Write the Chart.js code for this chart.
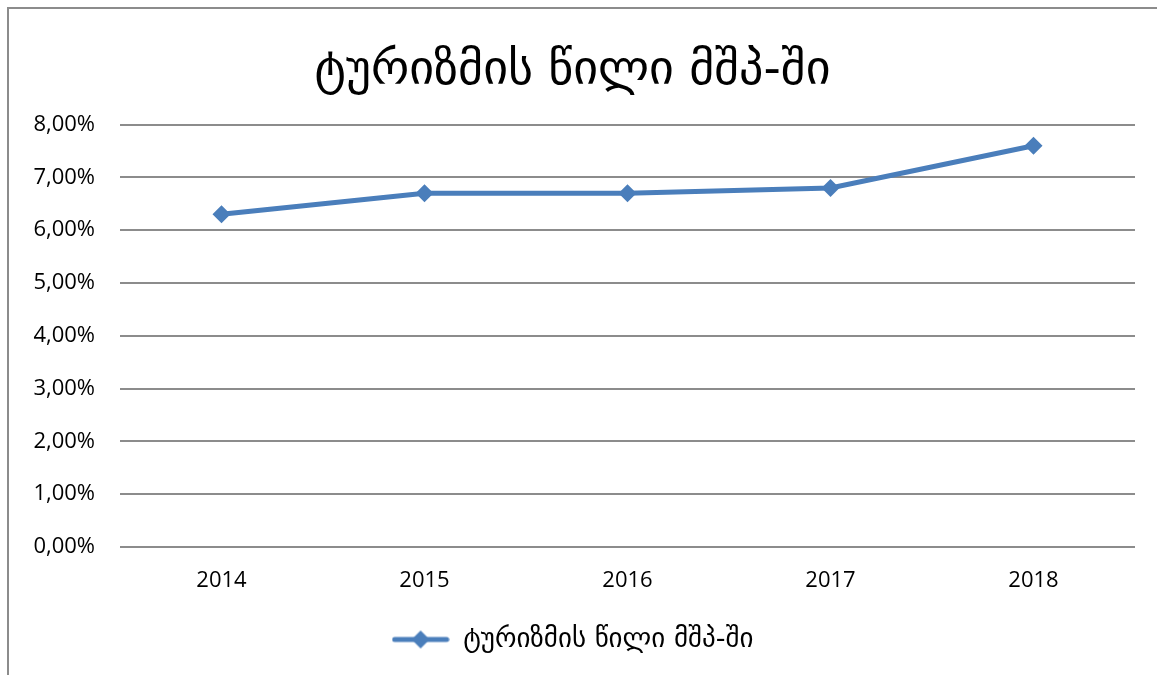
<!DOCTYPE html>
<html>
<head>
<meta charset="utf-8">
<script src="https://cdn.jsdelivr.net/npm/chart.js@4.4.0/dist/chart.umd.min.js"></script>
<style>
  html, body { margin: 0; padding: 0; background: #fff; }
  #wrap { position: relative; width: 1157px; height: 675px; }
</style>
</head>
<body>
<div id="wrap"><canvas id="myChart" width="1157" height="675"></canvas></div>
<script>
const title = "ტურიზმის წილი მშპ-ში";
const years = ["2014", "2015", "2016", "2017", "2018"];
const tourismShare = [6.3, 6.7, 6.7, 6.8, 7.6];
const yTicks = [0, 1, 2, 3, 4, 5, 6, 7, 8];

const blue = '#4a7ebb';
const txtFont = '"Open Sans", "DejaVu Sans", sans-serif';

// legend marker: line with diamond
const marker = document.createElement('canvas');
marker.width = 58;
marker.height = 22;
(function () {
  const c = marker.getContext('2d');
  c.strokeStyle = blue;
  c.lineWidth = 5;
  c.lineCap = 'round';
  c.beginPath();
  c.moveTo(3, 11);
  c.lineTo(55, 11);
  c.stroke();
  c.fillStyle = blue;
  c.beginPath();
  c.moveTo(29, 2);
  c.lineTo(38, 11);
  c.lineTo(29, 20);
  c.lineTo(20, 11);
  c.closePath();
  c.fill();
})();

const frame = {
  id: 'frame',
  afterDraw(chart) {
    const c = chart.ctx;
    c.save();
    c.strokeStyle = '#8c8c8c';
    c.lineWidth = 2;
    c.beginPath();
    c.moveTo(8, 675);
    c.lineTo(8, 8);
    c.lineTo(1157, 8);
    c.stroke();
    c.restore();
  }
};

const data = {
  labels: years,
  datasets: [{
    label: title,
    data: tourismShare,
    borderColor: blue,
    backgroundColor: blue,
    borderWidth: 5,
    pointStyle: 'rectRot',
    pointRadius: 9,
    pointHoverRadius: 9,
    pointBorderWidth: 0,
    tension: 0
  }]
};

const config = {
  type: 'line',
  data: data,
  plugins: [frame],
  options: {
    responsive: false,
    animation: false,
    layout: { padding: { top: 20, left: 10, right: 22, bottom: 12 } },
    plugins: {
      title: {
        display: true,
        text: title,
        color: '#000',
        font: { family: '"DejaVu Sans", sans-serif', size: 48, weight: 'normal' },
        padding: { top: 23, bottom: 24 }
      },
      legend: {
        position: 'bottom',
        labels: {
          color: '#000',
          font: { family: '"DejaVu Sans", sans-serif', size: 27 },
          usePointStyle: true,
          pointStyleWidth: 58,
          padding: 10,
          generateLabels: (chart) => [{
            text: title,
            pointStyle: marker,
            fillStyle: blue,
            strokeStyle: blue,
            lineWidth: 0,
            datasetIndex: 0
          }]
        }
      },
      tooltip: { enabled: false }
    },
    scales: {
      x: {
        offset: true,
        grid: { display: false },
        border: { display: false },
        ticks: { color: '#000', font: { family: txtFont, size: 22 }, padding: 13 },
        afterFit: (s) => { s.height = 69; }
      },
      y: {
        min: 0,
        max: 8,
        afterBuildTicks: (s) => { s.ticks = yTicks.map(v => ({ value: v })); },
        afterFit: (s) => { s.width = 110; },
        grid: { color: '#8c8c8c', lineWidth: 2, drawTicks: false },
        border: { display: false },
        ticks: {
          color: '#000',
          font: { family: txtFont, size: 22 },
          padding: 25,
          callback: (v) => v.toFixed(2).replace('.', ',') + '%'
        }
      }
    }
  }
};

const myChart = new Chart(document.getElementById('myChart'), config);
</script>
</body>
</html>
